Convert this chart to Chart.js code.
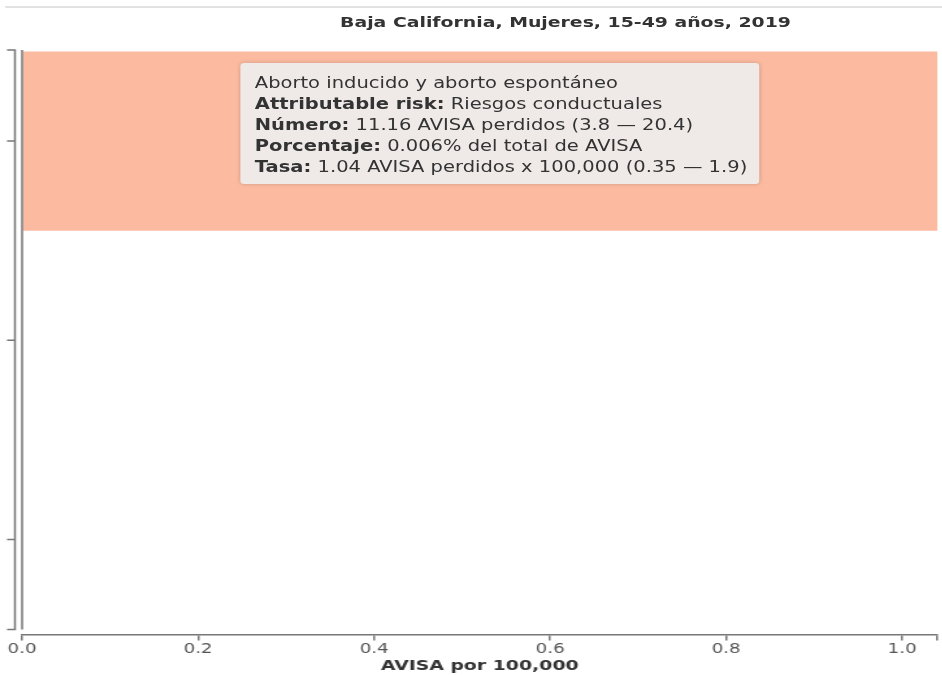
<!DOCTYPE html>
<html>
<head>
<meta charset="utf-8">
<script src="https://cdn.jsdelivr.net/npm/chart.js@4"></script>
<style>
  body { margin: 0; background: #fff; font-family: "DejaVu Sans", Verdana, sans-serif; overflow: hidden; }
  /* la captura original esta estirada a lo ancho */
  #wrap { position: relative; width: 725px; height: 675px; transform: scaleX(1.3); transform-origin: 0 0; }
  #topline { position: absolute; left: 4px; right: 0; top: 6px; border-top: 2px solid #e2e2e2; }
  #title { position: absolute; left: 185px; width: 500px; top: 14px; text-align: center; font-weight: bold; font-size: 14.5px; color: #333; }
  #tip { position: absolute; left: 185px; top: 63px; width: 378px; padding: 10px 10px 6px 11px; background: rgba(238,235,234,0.97);
         border-radius: 3px; box-shadow: 0 0 4px rgba(0,0,0,0.18); font-size: 15px; line-height: 21px; color: #333; white-space: nowrap; }
</style>
</head>
<body>
<div id="wrap">
  <canvas id="myChart" width="725" height="675"></canvas>
  <div id="topline"></div>
  <div id="title"></div>
  <div id="tip"></div>
</div>
<script>
let categories = ["Aborto inducido y aborto espontáneo", "", ""];
let tasa = [1.04, null, null];
let xTicks = [0, 0.2, 0.4, 0.6, 0.8, 1.0];
let xMax = 1.04;

let titulo = "Baja California, Mujeres, 15-49 años, 2019";
let riesgo = "Riesgos conductuales";
let numero = [11.16, 3.8, 20.4];
let porcentaje = 0.006;
let tasaRango = [0.35, 1.9];

document.getElementById("title").textContent = titulo;
document.getElementById("tip").innerHTML = `
  ${categories[0]}<br>
  <b>Attributable risk:</b> ${riesgo}<br>
  <b>Número:</b> ${numero[0]} AVISA perdidos (${numero[1]} — ${numero[2]})<br>
  <b>Porcentaje:</b> ${porcentaje}% del total de AVISA<br>
  <b>Tasa:</b> ${tasa[0]} AVISA perdidos x 100,000 (${tasaRango[0]} — ${tasaRango[1]})`;

// eje y tipo d3 (dos lineas con corchetes)
const ejeY = {
  id: "ejeY",
  afterDraw(chart) {
    let c = chart.ctx;
    let a = chart.chartArea;
    let y = chart.scales.y;
    let bottom = a.bottom - 5;
    c.save();
    c.strokeStyle = "#777";
    c.lineWidth = 1.5;
    c.beginPath();
    c.moveTo(a.left, a.top);
    c.lineTo(a.left, bottom);
    c.moveTo(5.4, a.top);
    c.lineTo(11.5, a.top);
    c.lineTo(11.5, bottom);
    c.lineTo(5.4, bottom);
    y.ticks.forEach(t => {
      let py = y.getPixelForValue(t.value);
      c.moveTo(5.4, py);
      c.lineTo(11.5, py);
    });
    c.stroke();
    c.restore();
  }
};

new Chart(document.getElementById("myChart"), {
  type: "bar",
  data: {
    datasets: [{
      data: tasa.map((v, i) => ({ x: v, y: i })),
      backgroundColor: "#fcbba1",
      barPercentage: 0.9,
      categoryPercentage: 1.0
    }]
  },
  options: {
    indexAxis: "y",
    responsive: false,
    animation: false,
    layout: { padding: { left: 17, right: 4, top: 50, bottom: 0 } },
    plugins: { legend: { display: false }, tooltip: { enabled: false } },
    scales: {
      y: {
        type: "linear",
        reverse: true,
        display: false,
        offset: false,
        min: -0.457,
        max: 2.477,
        afterBuildTicks: s => { s.ticks = categories.map((c, i) => ({ value: i })); }
      },
      x: {
        type: "linear",
        min: 0,
        max: xMax,
        afterBuildTicks: s => { s.ticks = xTicks.concat([xMax]).map(v => ({ value: v })); },
        border: { color: "#777", width: 1.5 },
        grid: { drawOnChartArea: false, color: "#777", lineWidth: 1.5, tickLength: 6 },
        ticks: {
          padding: 3,
          color: "#555",
          maxRotation: 0,
          font: { family: "DejaVu Sans", size: 14, lineHeight: 0.85 },
          callback: v => (v === xMax ? "" : v.toFixed(1))
        },
        title: {
          display: true,
          text: "AVISA por 100,000",
          color: "#333",
          padding: { top: 0, bottom: 2 },
          font: { family: "DejaVu Sans", size: 14.5, weight: "bold", lineHeight: 1 }
        }
      }
    }
  },
  plugins: [ejeY]
});
</script>
</body>
</html>
